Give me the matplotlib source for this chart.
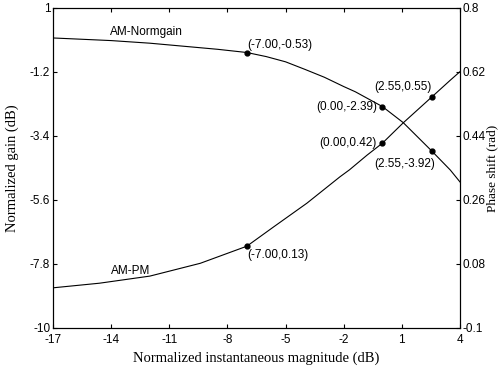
import numpy as np
import matplotlib
matplotlib.use('Agg')
import matplotlib.pyplot as plt

# AM-Normgain curve (left axis, dB)
gain_x = [-17, -14, -12, -10, -8.5, -7, -6, -5, -4, -3, -2, -1.4, 0, 1.07, 2.55, 3.5, 4]
gain_y = [-0.03, -0.12, -0.21, -0.33, -0.42, -0.53, -0.67, -0.85, -1.11, -1.38, -1.70, -1.88,
          -2.39, -2.94, -3.92, -4.57, -4.98]

# AM-PM curve (right axis, rad)
pm_x = [-17, -14.6, -12, -9.4, -7, -5.6, -3.9, -2.2, -1.7, -0.8, 0, 1.07, 2.55, 3.5, 4]
pm_y = [0.013, 0.026, 0.046, 0.082, 0.13, 0.185, 0.251, 0.325, 0.345, 0.386, 0.42, 0.477,
        0.55, 0.597, 0.621]

# marked points
gain_mark_x = [-7.00, 0.00, 2.55]
gain_mark_y = [-0.53, -2.39, -3.92]
pm_mark_x = [-7.00, 0.00, 2.55]
pm_mark_y = [0.13, 0.42, 0.55]

x_ticks = [-17, -14, -11, -8, -5, -2, 1, 4]
left_ticks = [1, -1.2, -3.4, -5.6, -7.8, -10]
right_ticks = [-0.1, 0.08, 0.26, 0.44, 0.62, 0.8]

sans = 'Liberation Sans'
serif = 'Liberation Serif'

fig = plt.figure(figsize=(4.98, 3.68), dpi=100)
ax = fig.add_axes([53/498, 1 - 328/368, 407/498, 320/368])
ax2 = ax.twinx()

ax.plot(gain_x, gain_y, color='black', lw=0.8)
ax.plot(gain_mark_x, gain_mark_y, 'o', color='black', ms=3.5)
ax2.plot(pm_x, pm_y, color='black', lw=0.8)
ax2.plot(pm_mark_x, pm_mark_y, 'o', color='black', ms=3.5)

ax.set_xlim(-17, 4)
ax.set_ylim(-10, 1)
ax2.set_ylim(-0.1, 0.8)
ax.set_xticks(x_ticks)
ax.set_xticklabels([str(v) for v in x_ticks])
ax.set_yticks(left_ticks)
ax.set_yticklabels(['%g' % v for v in left_ticks])
ax2.set_yticks(right_ticks)
ax2.set_yticklabels(['%g' % v for v in right_ticks])

for a in (ax, ax2):
    a.tick_params(direction='in', length=3, width=0.8, labelsize=8.5, pad=2)
    for lab in a.get_xticklabels() + a.get_yticklabels():
        lab.set_fontfamily(sans)
    for s in a.spines.values():
        s.set_linewidth(0.8)
ax.tick_params(axis='x', top=True, pad=4)

ax.set_xlabel('Normalized instantaneous magnitude (dB)', fontfamily=serif, fontsize=10.5, labelpad=4)
ax.set_ylabel('Normalized gain (dB)', fontfamily=serif, fontsize=10.5, labelpad=8)
ax2.set_ylabel('Phase shift (rad)', fontfamily=serif, fontsize=9.5, labelpad=0)

fs = 8.5
ax.text(-12.2, 0.17, 'AM-Normgain', fontfamily=sans, fontsize=fs, ha='center', va='center')
ax2.text(-13.0, 0.06, 'AM-PM', fontfamily=sans, fontsize=fs, ha='center', va='center')

ax.annotate('(-7.00,-0.53)', (gain_mark_x[0], gain_mark_y[0]), xytext=(0, 1),
            textcoords='offset points', ha='left', va='bottom', fontfamily=sans, fontsize=fs)
ax.annotate('(0.00,-2.39)', (gain_mark_x[1], gain_mark_y[1]), xytext=(-4, 0),
            textcoords='offset points', ha='right', va='center', fontfamily=sans, fontsize=fs)
ax.annotate('(2.55,-3.92)', (gain_mark_x[2], gain_mark_y[2]), xytext=(2, -5),
            textcoords='offset points', ha='right', va='top', fontfamily=sans, fontsize=fs)
ax2.annotate('(-7.00,0.13)', (pm_mark_x[0], pm_mark_y[0]), xytext=(0, -2),
             textcoords='offset points', ha='left', va='top', fontfamily=sans, fontsize=fs)
ax2.annotate('(0.00,0.42)', (pm_mark_x[1], pm_mark_y[1]), xytext=(-4, 0),
             textcoords='offset points', ha='right', va='center', fontfamily=sans, fontsize=fs)
ax2.annotate('(2.55,0.55)', (pm_mark_x[2], pm_mark_y[2]), xytext=(0, 3),
             textcoords='offset points', ha='right', va='bottom', fontfamily=sans, fontsize=fs)

fig.savefig('out.png', dpi=100)
